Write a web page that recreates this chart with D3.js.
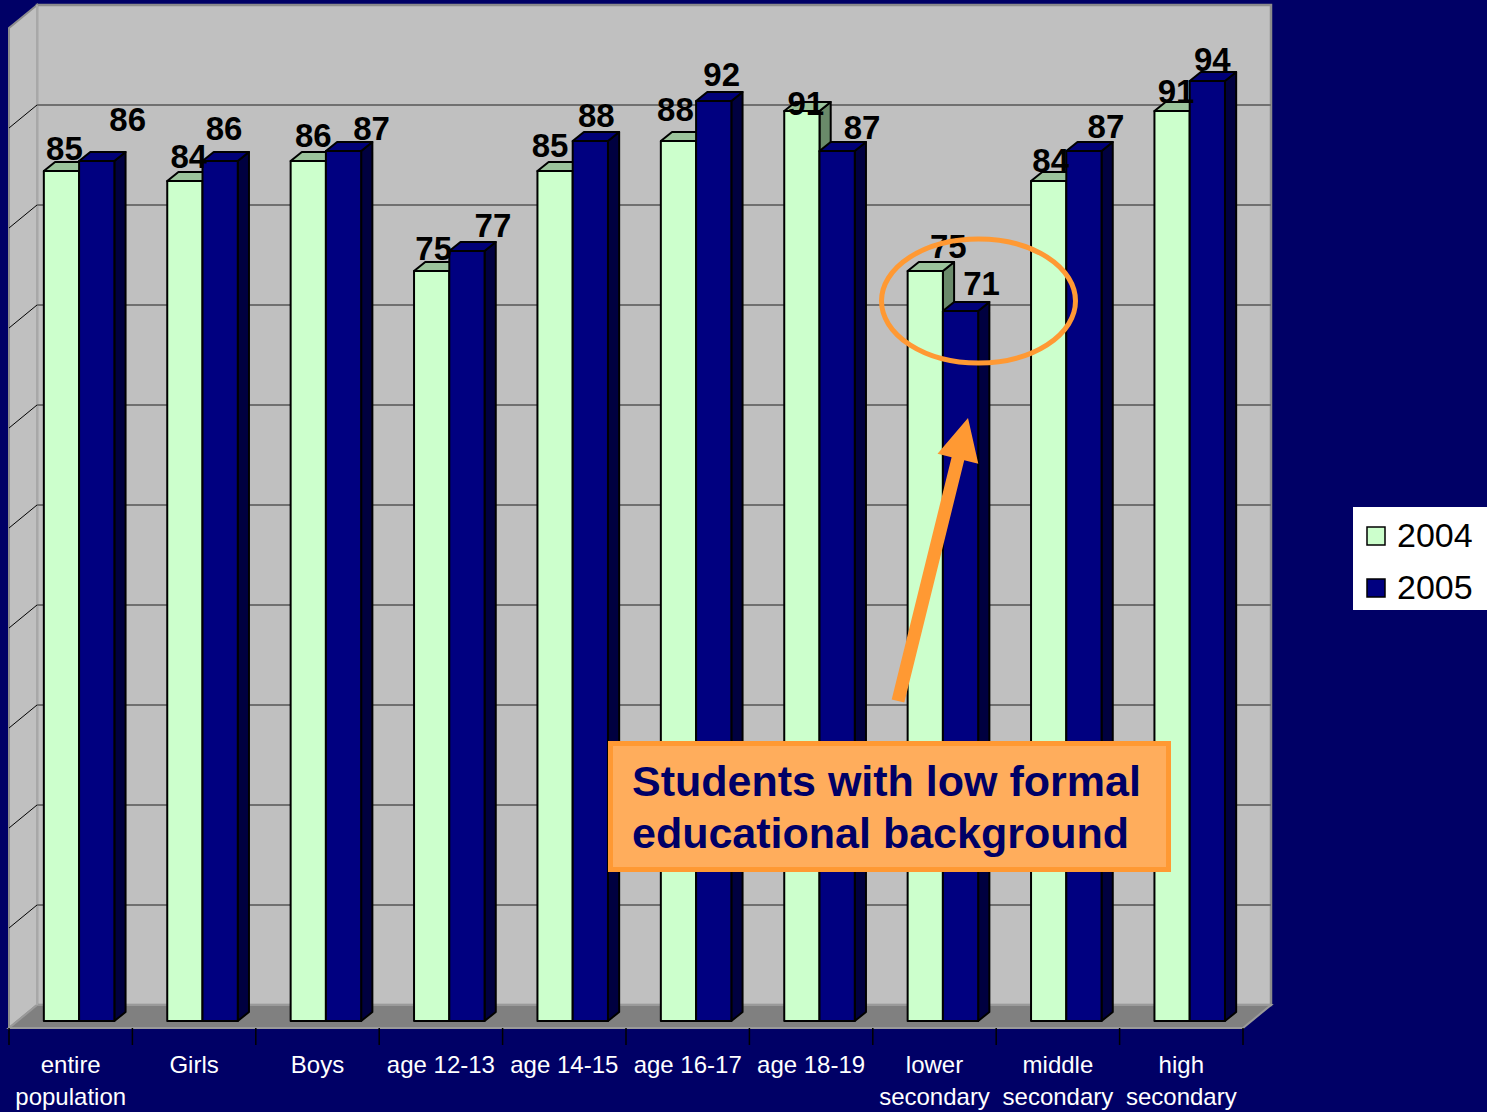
<!DOCTYPE html>
<html>
<head>
<meta charset="utf-8">
<script src="https://cdn.jsdelivr.net/npm/d3@7"></script>
<style>
  html, body { margin: 0; padding: 0; background: #000066; }
  svg { display: block; }
  text { font-family: "Liberation Sans", Arial, sans-serif; }
</style>
</head>
<body>
<svg id="chart" width="1487" height="1112"></svg>
<script>
// ---- data ----
const categories = ["entire population", "Girls", "Boys", "age 12-13", "age 14-15",
                    "age 16-17", "age 18-19", "lower secondary", "middle secondary", "high secondary"];
const series = ["2004", "2005"];
const values2004 = [85, 84, 86, 75, 85, 88, 91, 75, 84, 91];
const values2005 = [86, 86, 87, 77, 88, 92, 87, 71, 87, 94];
const valueTicks = [0, 10, 20, 30, 40, 50, 60, 70, 80, 90, 100];

// hand-placed label nudges [dx, dy] (labels dragged apart to avoid overlaps)
const labelNudge2004 = [[0, 1], [1, -1], [2, -2], [-1, 1], [-8, -2], [-6, -8], [1, 16], [20, -1], [-1, 3], [1, 4]];
const labelNudge2005 = [[28, -18], [1, -9], [25, 1], [23, -2], [3, -2], [5, -3], [22, 0], [18, -4], [19, -1], [2, 2]];

const seriesValues = { "2004": values2004, "2005": values2005 };
const nudges = { "2004": labelNudge2004, "2005": labelNudge2005 };

// ---- look ----
const colors = {
  "2004": { front: "#CCFFCC", top: "#9CC49C", side: "#6A8A6A" },
  "2005": { front: "#000080", top: "#000078", side: "#000040" }
};

const svg = d3.select("#chart");

// oblique 3D projection: z = 0 is the front edge of the floor, z = 1 the back wall
const DX = 28, DY = -23;
const x = d3.scaleBand().domain(categories).range([9, 1243]);
const xs = d3.scaleBand().domain(series).range([0, x.bandwidth()]).paddingInner(0).paddingOuter(0.75);
const y = d3.scaleLinear().domain([0, 100]).range([1028, 28]);
const P = (px, v, z) => [px + DX * z, y(v) + DY * z];
const poly = pts => pts.map(p => p.join(",")).join(" ");

// ---- walls ----
const walls = svg.append("g");
// back wall
walls.append("polygon")
  .attr("points", poly([P(9, 0, 1), P(1243, 0, 1), P(1243, 100, 1), P(9, 100, 1)]))
  .attr("fill", "#C0C0C0").attr("stroke", "#8C8C8C").attr("stroke-width", 2.5);
// side wall
walls.append("polygon")
  .attr("points", poly([P(9, 0, 0), P(9, 0, 1), P(9, 100, 1), P(9, 100, 0)]))
  .attr("fill", "#C0C0C0").attr("stroke", "#8C8C8C").attr("stroke-width", 2);
// floor
walls.append("polygon")
  .attr("points", poly([P(9, 0, 0), P(1243, 0, 0), P(1243, 0, 1), P(9, 0, 1)]))
  .attr("fill", "#808080").attr("stroke", "#9A9A9A").attr("stroke-width", 2);

// gridlines on back wall and side wall
const grid = svg.append("g");
grid.selectAll("line.back")
  .data(valueTicks.filter(t => t > 0 && t < 100))
  .join("line").attr("class", "back")
  .attr("x1", d => P(9, d, 1)[0]).attr("y1", d => P(9, d, 1)[1])
  .attr("x2", d => P(1243, d, 1)[0]).attr("y2", d => P(1243, d, 1)[1])
  .attr("stroke", "#707070").attr("stroke-width", 2);
grid.selectAll("line.side")
  .data(valueTicks.filter(t => t > 0 && t < 100))
  .join("line").attr("class", "side")
  .attr("x1", d => P(9, d, 0)[0]).attr("y1", d => P(9, d, 0)[1])
  .attr("x2", d => P(9, d, 1)[0]).attr("y2", d => P(9, d, 1)[1])
  .attr("stroke", "#000").attr("stroke-width", 1);
// back wall left edge highlight
walls.append("line")
  .attr("x1", P(9, 0, 1)[0]).attr("y1", P(9, 0, 1)[1])
  .attr("x2", P(9, 100, 1)[0]).attr("y2", P(9, 100, 1)[1])
  .attr("stroke", "#A8A8A8").attr("stroke-width", 2);

// ---- bars ----
const Z0 = 0.3, Z1 = 0.7;
const bars = svg.append("g");
const rows = [];
categories.forEach((c, i) => series.forEach(s => rows.push({ c, i, s, v: seriesValues[s][i] })));

rows.forEach(d => {
  const x0 = x(d.c) + xs(d.s), x1 = x0 + xs.bandwidth();
  const col = colors[d.s];
  const g = bars.append("g")
    .attr("stroke", "#000").attr("stroke-width", 2).attr("stroke-linejoin", "round");
  g.append("polygon").attr("fill", col.side)
    .attr("points", poly([P(x1, 0, Z0), P(x1, 0, Z1), P(x1, d.v, Z1), P(x1, d.v, Z0)]));
  g.append("polygon").attr("fill", col.top)
    .attr("points", poly([P(x0, d.v, Z0), P(x1, d.v, Z0), P(x1, d.v, Z1), P(x0, d.v, Z1)]));
  g.append("polygon").attr("fill", col.front)
    .attr("points", poly([P(x0, 0, Z0), P(x1, 0, Z0), P(x1, d.v, Z0), P(x0, d.v, Z0)]));
});

// ---- value labels ----
svg.append("g").selectAll("text")
  .data(rows)
  .join("text")
  .attr("x", d => P(x(d.c) + xs(d.s) + xs.bandwidth() / 2, d.v, Z0)[0] + 3 + nudges[d.s][d.i][0])
  .attr("y", d => P(0, d.v, Z0)[1] - 12 + nudges[d.s][d.i][1])
  .attr("text-anchor", "middle")
  .attr("font-size", 33).attr("font-weight", "bold").attr("fill", "#000")
  .text(d => d.v);

// ---- category axis ----
const axisG = svg.append("g").attr("transform", `translate(0,${y(0)})`);
axisG.call(d3.axisBottom(x).tickSize(0).tickPadding(0))
  .call(g => g.select(".domain").remove());
axisG.selectAll(".tick text")
  .attr("fill", "#fff").attr("font-size", 24)
  .attr("font-family", "'Liberation Sans', Arial, sans-serif")
  .attr("dy", null).attr("y", 45)
  .each(function (d) {
    const t = d3.select(this);
    const words = d.split(" ");
    t.text(null);
    let line = [], lineNo = 0;
    let tspan = t.append("tspan").attr("x", 0).attr("y", 45);
    words.forEach(w => {
      line.push(w);
      tspan.text(line.join(" "));
      if (tspan.node().getComputedTextLength() > x.bandwidth() - 4 && line.length > 1) {
        line.pop();
        tspan.text(line.join(" "));
        line = [w];
        lineNo += 1;
        tspan = t.append("tspan").attr("x", 0).attr("y", 45 + lineNo * 32).text(w);
      }
    });
  });
// boundary tick marks below the floor edge
axisG.append("g").selectAll("line")
  .data(d3.range(categories.length + 1))
  .join("line")
  .attr("x1", k => x.range()[0] + k * x.step()).attr("x2", k => x.range()[0] + k * x.step())
  .attr("y1", 0).attr("y2", 17)
  .attr("stroke", "#000").attr("stroke-width", 1.5);

// ---- legend ----
const legend = svg.append("g");
legend.append("rect").attr("x", 1353).attr("y", 507).attr("width", 134).attr("height", 103).attr("fill", "#fff");
series.forEach((s, k) => {
  legend.append("rect")
    .attr("x", 1367).attr("y", 527 + k * 52).attr("width", 18).attr("height", 18)
    .attr("fill", colors[s].front).attr("stroke", "#000").attr("stroke-width", 1.5);
  legend.append("text")
    .attr("x", 1397).attr("y", 547 + k * 52)
    .attr("font-size", 34).attr("fill", "#000").text(s);
});

// ---- annotation ----
const note = svg.append("g");
// highlight ellipse around the lower-secondary pair
const hiCat = "lower secondary";
const hiCx = x(hiCat) + x.bandwidth() / 2 + 44;
note.append("ellipse")
  .attr("cx", hiCx).attr("cy", 301).attr("rx", 97).attr("ry", 62)
  .attr("fill", "none").attr("stroke", "#FF9933").attr("stroke-width", 5);

// arrow
const tail = [898, 701], tip = [968, 418];
const ang = Math.atan2(tip[1] - tail[1], tip[0] - tail[0]);
const ux = Math.cos(ang), uy = Math.sin(ang), nx = -uy, ny = ux;
const shaftW = 6.5, headW = 21, headL = 42;
const hb = [tip[0] - ux * headL, tip[1] - uy * headL];
note.append("polygon")
  .attr("fill", "#FF9933")
  .attr("points", poly([
    [tail[0] + nx * shaftW, tail[1] + ny * shaftW],
    [hb[0] + nx * shaftW, hb[1] + ny * shaftW],
    [hb[0] + nx * headW, hb[1] + ny * headW],
    tip,
    [hb[0] - nx * headW, hb[1] - ny * headW],
    [hb[0] - nx * shaftW, hb[1] - ny * shaftW],
    [tail[0] - nx * shaftW, tail[1] - ny * shaftW]
  ]));

// callout box
note.append("rect")
  .attr("x", 610.5).attr("y", 743.5).attr("width", 558).attr("height", 126)
  .attr("fill", "#FFAD5C").attr("stroke", "#FF9933").attr("stroke-width", 5);
const noteText = note.append("text")
  .attr("font-size", 43).attr("font-weight", "bold").attr("fill", "#000066");
noteText.append("tspan").attr("x", 632).attr("y", 796).text("Students with low formal");
noteText.append("tspan").attr("x", 632).attr("y", 848).text("educational background");
</script>
</body>
</html>
